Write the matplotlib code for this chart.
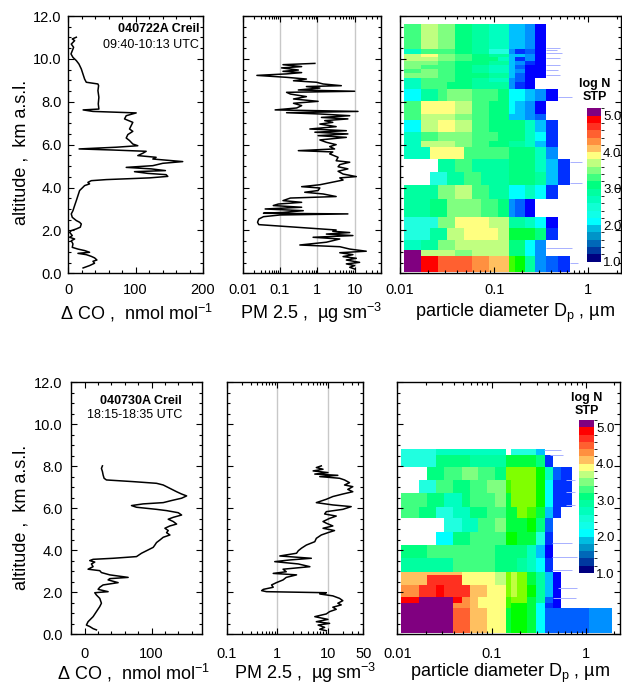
import numpy as np
import matplotlib
matplotlib.use("Agg")
import matplotlib.pyplot as plt
import matplotlib.cm as cm
from matplotlib.colors import ListedColormap, BoundaryNorm
from matplotlib.ticker import (MultipleLocator, FixedLocator, FixedFormatter,
                               LogLocator, NullFormatter, FormatStrFormatter)

plt.rcParams['font.family'] = ['Liberation Sans', 'DejaVu Sans']
plt.rcParams['mathtext.fontset'] = 'custom'
plt.rcParams['mathtext.rm'] = 'Liberation Sans'
plt.rcParams['mathtext.it'] = 'Liberation Sans:italic'
plt.rcParams['mathtext.bf'] = 'Liberation Sans:bold'

W, H = 622, 693

# ---- profiles: (altitude km, value) ----
co_0722 = [
    (11.01, 11.9), (10.93, 5.9), (10.85, 9.4), (10.69, 4.4), (10.54, 7.9), (10.38, 5.9),
    (10.23, 4.0), (10.07, 6.9), (9.92, 11.9), (9.76, 15.8), (9.53, 19.3), (9.30, 21.7),
    (9.06, 24.2), (8.91, 26.7), (8.83, 44.0), (8.75, 45.0), (8.52, 44.0), (8.21, 45.4),
    (7.90, 44.5), (7.66, 45.4), (7.62, 22.0), (7.55, 36.6), (7.48, 100.8), (7.35, 86.0),
    (7.20, 83.5), (7.04, 95.8), (6.89, 93.4), (6.73, 90.9), (6.62, 95.8), (6.47, 88.4),
    (6.31, 86.0), (6.19, 90.9), (6.03, 95.8), (5.95, 103.2), (5.88, 71.1), (5.80, 16.0),
    (5.75, 66.2), (5.69, 115.6), (5.60, 110.7), (5.49, 103.2), (5.41, 130.4), (5.33, 125.5),
    (5.25, 155.1), (5.21, 169.9), (5.13, 140.3), (5.02, 125.5), (4.94, 86.0), (4.87, 123.0),
    (4.79, 144.2), (4.74, 98.3), (4.66, 118.1), (4.60, 145.2), (4.52, 147.7), (4.45, 120.5),
    (4.37, 56.3), (4.32, 34.1), (4.24, 29.1), (4.17, 31.6), (4.09, 24.2), (4.01, 21.7),
    (3.86, 16.8), (3.62, 14.3), (3.39, 11.9), (3.16, 9.4), (2.92, 6.9), (2.77, 4.4),
    (2.61, 5.9), (2.46, 11.9), (2.38, 16.8), (2.30, 19.3), (2.15, 17.8), (2.07, 11.9),
    (1.99, 4.4), (1.91, 2.0), (1.76, 5.9), (1.68, 2.0), (1.60, 9.4), (1.52, 4.4),
    (1.37, 6.9), (1.21, 5.9), (1.13, 14.3), (1.06, 24.2), (0.98, 31.6), (0.93, 14.3),
    (0.87, 26.7), (0.79, 34.1), (0.72, 39.0), (0.62, 42.5), (0.56, 36.6), (0.47, 39.0),
    (0.36, 31.6), (0.25, 22.0),
]

pm_0722 = [
    (9.79, 0.86), (9.73, 0.12), (9.64, 0.38), (9.58, 0.11), (9.48, 0.31), (9.42, 0.12),
    (9.36, 0.38), (9.30, 0.15), (9.23, 0.024), (9.14, 0.15), (9.06, 0.51), (8.98, 0.23),
    (8.91, 0.95), (8.83, 1.43), (8.75, 4.4), (8.71, 0.51), (8.64, 1.17), (8.55, 0.31),
    (8.49, 10.0), (8.44, 0.15), (8.36, 0.19), (8.24, 0.51), (8.13, 0.23), (8.02, 1.05),
    (7.93, 0.23), (7.82, 0.38), (7.71, 0.28), (7.62, 0.074), (7.55, 12.3), (7.49, 0.15),
    (7.43, 1.17), (7.35, 7.4), (7.27, 1.29), (7.20, 6.6), (7.12, 1.58), (7.04, 2.6),
    (6.96, 1.17), (6.84, 3.2), (6.73, 0.63), (6.65, 6.0), (6.58, 0.86), (6.50, 6.6),
    (6.42, 1.05), (6.34, 6.0), (6.22, 1.17), (6.11, 1.75), (6.00, 3.2), (5.91, 2.15),
    (5.80, 2.9), (5.72, 0.31), (5.66, 2.6), (5.57, 2.15), (5.41, 3.6), (5.25, 3.2),
    (5.18, 7.4), (5.07, 4.0), (4.97, 3.6), (4.87, 6.6), (4.76, 3.6), (4.63, 4.9),
    (4.51, 11.1), (4.45, 4.0), (4.35, 4.9), (4.24, 2.4), (4.13, 1.17), (4.04, 0.38),
    (3.98, 1.17), (3.86, 1.05), (3.78, 0.46), (3.70, 1.43), (3.58, 3.2), (3.51, 0.19),
    (3.39, 0.12), (3.31, 0.38), (3.23, 0.09), (3.16, 0.066), (3.08, 0.38), (3.00, 0.04),
    (2.92, 0.42), (2.84, 0.12), (2.80, 0.036), (2.77, 6.6), (2.72, 0.1), (2.64, 0.036),
    (2.53, 0.027), (2.38, 0.025), (2.27, 0.027), (2.02, 3.2), (1.96, 2.6), (1.90, 7.4),
    (1.83, 1.75), (1.76, 9.0), (1.68, 0.77), (1.60, 4.0), (1.45, 1.75), (1.32, 0.34),
    (1.24, 4.0), (1.13, 7.4), (1.03, 20.5), (0.96, 4.0), (0.87, 9.0), (0.78, 4.9),
    (0.70, 11.1), (0.62, 6.0), (0.51, 13.6), (0.44, 6.0), (0.36, 10.0), (0.28, 7.4),
    (0.20, 10.0),
]

co_0730 = [
    (8.02, 26.5), (7.90, 25.0), (7.75, 26.5), (7.59, 27.5), (7.43, 29.0), (7.35, 32.5),
    (7.27, 72.5), (7.19, 107.5), (7.11, 117.5), (6.95, 127.5), (6.79, 137.5), (6.68, 145.0),
    (6.59, 152.5), (6.48, 145.0), (6.37, 130.0), (6.27, 117.5), (6.21, 87.5), (6.13, 70.0),
    (6.05, 77.5), (5.95, 107.5), (5.89, 122.5), (5.79, 140.0), (5.68, 145.0), (5.57, 132.5),
    (5.48, 125.0), (5.37, 132.5), (5.25, 137.5), (5.16, 127.5), (5.05, 120.0), (4.94, 125.0),
    (4.84, 122.5), (4.73, 127.5), (4.62, 117.5), (4.49, 112.5), (4.37, 107.5), (4.25, 105.0),
    (4.14, 102.5), (4.02, 95.0), (3.86, 85.0), (3.70, 77.5), (3.62, 42.5), (3.57, 12.5),
    (3.51, 7.5), (3.44, 15.0), (3.35, 10.0), (3.22, 12.5), (3.10, 5.0), (3.03, 22.5),
    (2.94, 25.0), (2.83, 37.5), (2.71, 65.0), (2.65, 37.5), (2.59, 35.0), (2.46, 50.0),
    (2.35, 27.5), (2.24, 22.5), (2.14, 20.0), (2.03, 35.0), (1.98, 15.0), (1.87, 17.5),
    (1.71, 22.5), (1.48, 25.0), (1.32, 22.5), (1.08, 17.5), (0.84, 12.5), (0.60, 5.0),
    (0.44, 2.5), (0.37, 7.5), (0.27, 12.5), (0.21, 17.5),
]

pm_0730 = [
    (8.02, 7.4), (7.94, 5.9), (7.86, 8.0), (7.78, 5.1), (7.70, 10.0), (7.63, 5.5),
    (7.57, 15.7), (7.51, 6.9), (7.43, 17.0), (7.35, 21.3), (7.22, 26.7), (7.11, 21.3),
    (7.03, 31.0), (6.90, 24.7), (6.79, 31.0), (6.68, 19.7), (6.56, 12.5), (6.43, 9.3),
    (6.27, 5.9), (6.16, 12.5), (6.08, 28.8), (5.95, 19.7), (5.84, 9.3), (5.73, 8.6),
    (5.63, 14.6), (5.52, 10.8), (5.37, 8.0), (5.29, 9.3), (5.16, 12.5), (5.05, 8.0),
    (4.94, 13.5), (4.84, 10.0), (4.73, 7.4), (4.57, 5.9), (4.41, 5.5), (4.25, 3.75),
    (4.10, 3.0), (3.98, 2.6), (3.86, 2.4), (3.73, 1.12), (3.62, 4.7), (3.54, 1.76),
    (3.46, 0.89), (3.35, 2.6), (3.22, 4.4), (3.10, 1.3), (2.98, 1.5), (2.90, 0.83),
    (2.83, 2.4), (2.71, 1.5), (2.59, 1.3), (2.46, 0.96), (2.35, 0.77), (2.24, 0.83),
    (2.14, 0.53), (2.08, 0.49), (2.03, 0.61), (1.98, 9.3), (1.92, 6.9), (1.83, 12.5),
    (1.71, 17.0), (1.60, 19.7), (1.48, 15.7), (1.40, 18.3), (1.29, 12.5), (1.19, 14.6),
    (1.08, 10.8), (0.97, 9.3), (0.84, 5.5), (0.71, 10.0), (0.60, 5.9), (0.52, 10.8),
    (0.44, 6.4), (0.33, 8.6), (0.24, 6.9), (0.17, 9.3),
]

# ---- size distribution maps ----
# colour classes of the map cells, lowest log N first; '.' = no data
PALETTE = {
    'b': '#0000ff', 'B': '#0030ff', 'm': '#0060ff', 'M': '#0090ff', 'l': '#00c0ff',
    'c': '#00ffff', 'a': '#20ffe0', 'q': '#00ffc0', 'h': '#00ffa0', 's': '#00ff80',
    'g': '#40ff80', 'G': '#80ff80', 'y': '#c0ff80', 'Y': '#ffff80', 'o': '#ffc060',
    'O': '#ff9040', 'r': '#ff6030', 'R': '#ff3020', 'X': '#ff0000', 'P': '#800080',
    'e': '#00ff40', 'L': '#00ff00', 'n': '#40ff00', 'k': '#80ff00', 'K': '#c0ff40',
}

dp_smps = [0.0110, 0.0136, 0.0168, 0.0207, 0.0255, 0.0313, 0.0388, 0.0480,
           0.0585, 0.0725, 0.0885, 0.110, 0.143]
dp_edges_0722 = dp_smps + [0.166, 0.212, 0.271, 0.36, 0.48, 0.64]
dp_edges_0730 = dp_smps + [0.159, 0.188, 0.24, 0.294, 0.366, 0.445, 0.54, 0.72, 1.08, 1.89]

alt_edges_0722 = [11.65, 10.46, 10.25, 10.09, 9.91, 9.72, 9.53, 9.32, 9.11, 8.91, 8.60,
                  8.02, 7.43, 7.15, 6.58, 6.15, 5.87, 5.31, 4.73, 4.12, 3.48, 2.63,
                  2.09, 1.55, 1.09, 0.81, 0.07]
map_0722 = [
    "ggyyGGsshhqqllMb..",
    "qqggggsshhaaMBmb..",
    "yyYYGGggsshhllMb..",
    "yyyyGGggsssqlBMb..",
    "GGGGggsssshhlMBb..",
    "GGggggsshhqqlmbb..",
    "ggGGggsshhqqlMbb..",
    "GGGGggsssshhlmbb..",
    "qqggggsshhqqMmb...",
    "qqgggssshhhhMBb...",
    "cchhgGGGgggscclMb.",
    "ggYYYYyyggssclMb..",
    "ggyyyyGGggssllMm..",
    "ccyyYYyyggssssqlB.",
    "qqggGGGGgggsssqcB.",
    "qqyyyyGGggsshhqlB.",
    "qqqYYYYgggggsssqM.",
    "....hhgghhhhsssqlB",
    "...aahhgghhhssshlB",
    "hhhhGGyygghhccqcB.",
    "hhhssGGGGggsMmb...",
    "aaaaGGYYYYyyhhqcb.",
    "aaahhyyYYYYyeeesB.",
    "qqhhGGyyyyyysscM..",
    "PPyyyyGGyyyysscM..",
    "PPXXrrrrOOoonLhMmB",
]

alt_edges_0730 = [8.81, 8.54, 7.98, 7.35, 6.71, 6.08, 5.52, 4.89, 4.25, 3.62, 2.98,
                  2.82, 2.35, 1.79, 1.50, 1.24, 0.05]
map_0730 = [
    "aaaaqqqqqqqq.aaal.....",
    "aaaasssshhhheeeesB....",
    "...ssggGGggskkkkLqmB..",
    "..aaggssggGGnkkkLcBB..",
    "gggssqqsgggGekkkLcBB..",
    "ggssaaqqssggeeknelB...",
    ".....aaqqggGeeeLsm....",
    "....ccssggggLLeeaB....",
    "sssggggggggssssqlb....",
    "hhhhhhgggggssshqcB....",
    "oooooooYYYYykKkehlb...",
    "oooRRRRYYYYykKkehlb...",
    "OORRXRRRooYYkKkLhlb...",
    "XXPPPPXOoYYYnkkehmb...",
    "PPPPPPOOoYYYnLLecBb...",
    "PPPPPPrrooYYeLLecmmmmM",
]

# faint single-scan streaks to the right of the maps: (alt, dp from, dp to)
streaks_0722 = [(10.50, 0.36, 0.50), (10.42, 0.36, 0.46), (10.26, 0.36, 0.52),
                (10.03, 0.36, 0.50), (9.72, 0.36, 0.50), (9.50, 0.36, 0.48),
                (9.27, 0.36, 0.50), (8.24, 0.48, 0.67), (5.20, 0.64, 0.85),
                (4.19, 0.64, 0.85), (1.18, 0.36, 0.67), (0.48, 0.64, 0.78)]
streaks_0730 = [(8.78, 0.36, 0.54), (8.54, 0.42, 0.57), (7.35, 0.61, 0.77),
                (6.79, 0.61, 0.77), (6.16, 0.61, 0.77), (4.33, 0.44, 0.71),
                (3.69, 0.44, 0.80), (3.06, 0.44, 0.71), (2.19, 0.50, 0.81),
                (1.71, 0.45, 0.78)]

CBAR_COLORS = ['#000080', '#0038a0', '#0068b8', '#0094c8', '#00bce0', '#00ffff',
               '#10ffe8', '#10ffd4', '#00ffbc', '#00ffa0', '#00ff80', '#40ff80',
               '#80ff80', '#c0ff80', '#ffff80', '#ffc060', '#ff9040', '#ff6030',
               '#ff3020', '#ff0000', '#800080']
CBAR_LEVELS = np.linspace(1.0, 5.2, 22)


def box(l, t, r, b):
    return [l / W, 1 - b / H, (r - l) / W, (b - t) / H]


def code_grid(rows):
    keys = list(PALETTE)
    grid = np.full((len(rows), len(rows[0])), np.nan)
    for i, row in enumerate(rows):
        assert len(row) == len(rows[0])
        for j, ch in enumerate(row):
            if ch != '.':
                grid[i, j] = keys.index(ch)
    return np.ma.masked_invalid(grid)


def style(ax, xpad, ypad, left_labels):
    ax.set_ylim(0, 12)
    ax.yaxis.set_major_locator(MultipleLocator(2))
    ax.yaxis.set_minor_locator(MultipleLocator(0.5))
    ax.yaxis.set_major_formatter(FormatStrFormatter('%.1f'))
    ax.tick_params(which='both', direction='in', top=True, right=True,
                   labelsize=10.5, width=0.8)
    ax.tick_params(which='major', length=4)
    ax.tick_params(which='minor', length=2.5)
    ax.tick_params(axis='x', pad=xpad)
    ax.tick_params(axis='y', pad=ypad, labelleft=left_labels)
    for s in ax.spines.values():
        s.set_linewidth(1.0)


def log_ticks(ax, ticks, labels):
    ax.set_xscale('log')
    ax.xaxis.set_major_locator(FixedLocator(ticks))
    ax.xaxis.set_major_formatter(FixedFormatter(labels))
    ax.xaxis.set_minor_locator(LogLocator(base=10, subs=np.arange(2, 10)))
    ax.xaxis.set_minor_formatter(NullFormatter())


def profile(ax, pairs):
    alt, val = zip(*pairs)
    ax.plot(val, alt, color='black', lw=1.1, zorder=3)


map_cmap = ListedColormap(list(PALETTE.values()))
cbar_cmap = ListedColormap(CBAR_COLORS)
cbar_norm = BoundaryNorm(CBAR_LEVELS, len(CBAR_COLORS))

fig = plt.figure(figsize=(W / 100, H / 100), dpi=100)

rows = [
    dict(co=co_0722, pm=pm_0722, grid=map_0722, dp=dp_edges_0722, alt=alt_edges_0722,
         streaks=streaks_0722, top=16, bot=273.3,
         co_box=(68.3, 203), pm_box=(242.7, 380.7), sz_box=(400, 620.5),
         co_lim=(0, 200), co_ticks=[0, 100, 200], pm_lim=(0.01, 50),
         pm_ticks=[0.01, 0.1, 1, 10], pm_labels=['0.01', '0.1', '1', '10'],
         pm_grid=[0.1, 1, 10], sz_lim=(0.01, 2.2),
         cbar=(586.7, 108.3, 601, 261.7), logn=(595, 84),
         flight='040722A Creil', utc='09:40-10:13 UTC', ann=(199, 29, 45),
         xpad=7, ypad=4.8, xlab_y=313, xlab_x=(136, 311, 515), ylab_y=152),
    dict(co=co_0730, pm=pm_0730, grid=map_0730, dp=dp_edges_0730, alt=alt_edges_0730,
         streaks=streaks_0730, top=382.3, bot=634.3,
         co_box=(70.7, 202.3), pm_box=(226.7, 363.3), sz_box=(397.3, 620),
         co_lim=(-21, 176), co_ticks=[0, 100], pm_lim=(0.1, 50),
         pm_ticks=[0.1, 1, 10, 50], pm_labels=['0.1', '1', '10', '50'],
         pm_grid=[1, 10], sz_lim=(0.01, 2.3),
         cbar=(579, 420, 594, 573), logn=(587, 398),
         flight='040730A Creil', utc='18:15-18:35 UTC', ann=(182, 401, 415),
         xpad=9.5, ypad=5.8, xlab_y=673, xlab_x=(133, 305, 510), ylab_y=517),
]

for r in rows:
    # CO profile
    ax = fig.add_axes(box(r['co_box'][0], r['top'], r['co_box'][1], r['bot']))
    profile(ax, r['co'])
    ax.set_xlim(*r['co_lim'])
    ax.xaxis.set_major_locator(FixedLocator(r['co_ticks']))
    ax.xaxis.set_minor_locator(MultipleLocator(20))
    style(ax, r['xpad'], r['ypad'], True)
    fig.text(r['ann'][0] / W, 1 - r['ann'][1] / H, r['flight'], ha='right',
             va='center', fontsize=9, fontweight='bold')
    fig.text(r['ann'][0] / W, 1 - r['ann'][2] / H, r['utc'], ha='right',
             va='center', fontsize=9)

    # PM2.5 profile
    ax = fig.add_axes(box(r['pm_box'][0], r['top'], r['pm_box'][1], r['bot']))
    for g in r['pm_grid']:
        ax.axvline(g, color='#c8c8c8', lw=1.0, zorder=1)
    profile(ax, r['pm'])
    log_ticks(ax, r['pm_ticks'], r['pm_labels'])
    ax.set_xlim(*r['pm_lim'])
    style(ax, r['xpad'], r['ypad'], False)

    # size distribution
    ax = fig.add_axes(box(r['sz_box'][0], r['top'], r['sz_box'][1], r['bot']))
    ax.pcolormesh(r['dp'], r['alt'], code_grid(r['grid']), cmap=map_cmap,
                  vmin=-0.5, vmax=len(PALETTE) - 0.5, shading='flat',
                  antialiased=False, linewidth=0, zorder=1)
    alt, d0, d1 = zip(*r['streaks'])
    ax.hlines(alt, d0, d1, colors='#a8b0ff', lw=0.7, zorder=1)
    log_ticks(ax, [0.01, 0.1, 1], ['0.01', '0.1', '1'])
    ax.set_xlim(*r['sz_lim'])
    style(ax, r['xpad'], r['ypad'], False)

    # colour scale
    l, t, rr, b = r['cbar']
    cax = fig.add_axes(box(l, t, rr, b))
    cb = fig.colorbar(cm.ScalarMappable(norm=cbar_norm, cmap=cbar_cmap), cax=cax,
                      ticks=[1, 2, 3, 4, 5])
    cb.outline.set_visible(False)
    cb.ax.set_yticklabels(['1.0', '2.0', '3.0', '4.0', '5.0'])
    cb.ax.tick_params(length=0, labelsize=9.5, pad=1.5)
    fig.text(r['logn'][0] / W, 1 - r['logn'][1] / H, 'log N', ha='center',
             va='center', fontsize=9, fontweight='bold')
    fig.text(r['logn'][0] / W, 1 - (r['logn'][1] + 13.5) / H, 'STP', ha='center',
             va='center', fontsize=9, fontweight='bold')

    # axis titles
    y = 1 - r['xlab_y'] / H
    fig.text(r['xlab_x'][0] / W, y, 'Δ CO ,  nmol mol$^{-1}$', ha='center',
             va='center', fontsize=13)
    fig.text(r['xlab_x'][1] / W, y, 'PM 2.5 ,  µg sm$^{-3}$', ha='center',
             va='center', fontsize=13)
    fig.text(r['xlab_x'][2] / W, y, 'particle diameter D$_{\\rm p}$ , µm',
             ha='center', va='center', fontsize=13)
    fig.text(21 / W, 1 - r['ylab_y'] / H, 'altitude ,  km a.s.l.', rotation=90,
             ha='center', va='center', fontsize=13)

fig.savefig('out.png', dpi=100)
